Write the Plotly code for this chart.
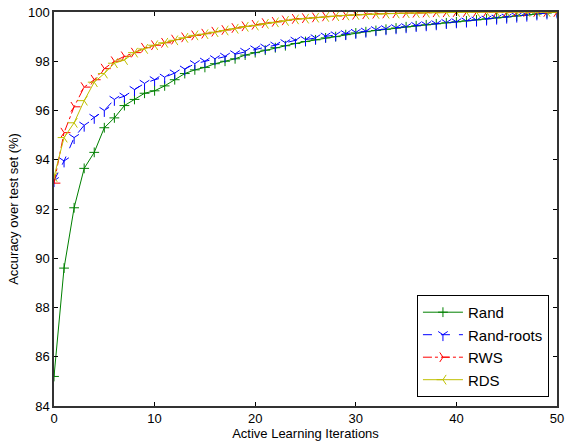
import plotly.graph_objects as go

iterations = list(range(51))

rand = [85.2, 89.6, 92.05, 93.65, 94.3, 95.3, 95.7, 96.2, 96.45, 96.7,
        96.8, 97.0, 97.25, 97.5, 97.65, 97.75, 97.9, 98.0, 98.1, 98.25,
        98.35, 98.45, 98.55, 98.63, 98.72, 98.8, 98.87, 98.95, 99.0, 99.08,
        99.15, 99.2, 99.25, 99.3, 99.35, 99.4, 99.44, 99.48, 99.52, 99.56,
        99.6, 99.64, 99.68, 99.72, 99.76, 99.8, 99.84, 99.88, 99.92, 99.96, 100.0]

rand_roots = [93.15, 93.95, 94.9, 95.4, 95.72, 96.0, 96.45, 96.58, 96.85, 97.1,
              97.25, 97.35, 97.52, 97.68, 97.9, 98.0, 98.1, 98.2, 98.3, 98.4,
              98.5, 98.57, 98.65, 98.75, 98.85, 98.88, 98.95, 99.02, 99.07, 99.12,
              99.17, 99.22, 99.28, 99.32, 99.36, 99.4, 99.45, 99.48, 99.52, 99.57,
              99.6, 99.63, 99.67, 99.71, 99.75, 99.79, 99.83, 99.87, 99.92, 99.96, 100.0]

rws = [93.05, 95.1, 96.15, 96.95, 97.25, 97.7, 98.0, 98.2, 98.35, 98.55,
       98.65, 98.75, 98.88, 98.97, 99.05, 99.12, 99.2, 99.27, 99.35, 99.42,
       99.48, 99.55, 99.6, 99.66, 99.72, 99.75, 99.78, 99.82, 99.85, 99.87,
       99.89, 99.91, 99.93, 99.94, 99.95, 99.96, 99.97, 99.98, 99.99, 99.99,
       100.0, 100.0, 100.0, 100.0, 100.0, 100.0, 100.0, 100.0, 100.0, 100.0, 100.0]

rds = [93.3, 94.9, 95.5, 96.4, 97.15, 97.5, 97.92, 98.05, 98.35, 98.5,
       98.65, 98.75, 98.85, 98.95, 99.05, 99.1, 99.18, 99.25, 99.32, 99.4,
       99.45, 99.52, 99.58, 99.64, 99.7, 99.73, 99.77, 99.8, 99.83, 99.86,
       99.88, 99.9, 99.92, 99.93, 99.94, 99.95, 99.96, 99.97, 99.98, 99.99,
       100.0, 100.0, 100.0, 100.0, 100.0, 100.0, 100.0, 100.0, 100.0, 100.0, 100.0]

x_ticks = [0, 10, 20, 30, 40, 50]
y_ticks = [84, 86, 88, 90, 92, 94, 96, 98, 100]

series = [
    ("Rand", rand, "rgb(0,128,0)", "solid", "cross-thin-open", 7),
    ("Rand-roots", rand_roots, "rgb(0,0,255)", "dash", "y-down-open", 8),
    ("RWS", rws, "rgb(255,0,0)", "dashdot", "y-right-open", 8),
    ("RDS", rds, "rgb(191,191,0)", "solid", "y-left-open", 8),
]

fig = go.Figure()
for name, vals, color, dash, sym, size in series:
    fig.add_trace(go.Scatter(
        x=iterations, y=vals, name=name, mode="lines+markers",
        line=dict(color=color, width=1, dash=dash),
        marker=dict(symbol=sym, size=size, color=color,
                    line=dict(color=color, width=1)),
    ))

font = "Liberation Sans, Arial, sans-serif"
fig.update_layout(
    width=569, height=444,
    margin=dict(l=54, r=5, t=12, b=38),
    paper_bgcolor="white", plot_bgcolor="white",
    font=dict(family=font, size=13, color="black"),
    showlegend=True,
    legend=dict(x=0.984, y=0.023, xanchor="right", yanchor="bottom",
                bordercolor="black", borderwidth=1, bgcolor="white",
                itemwidth=40,
                font=dict(size=15, family=font)),
)
fig.update_xaxes(range=[0, 50], tickvals=x_ticks, ticks="inside", ticklen=4,
                 ticklabeloverflow="allow",
                 showgrid=False, zeroline=False, showline=True, linecolor="#333",
                 linewidth=1.5, mirror="allticks", tickcolor="black",
                 title=dict(text="Active Learning Iterations", font=dict(size=13), standoff=4))
fig.update_yaxes(range=[84, 100], tickvals=y_ticks, ticks="inside", ticklen=4,
                 showgrid=False, zeroline=False, showline=True, linecolor="#333",
                 linewidth=1.5, mirror="allticks", tickcolor="black",
                 title=dict(text="Accuracy over test set (%)", font=dict(size=13), standoff=6))

fig.write_html("out.html")
